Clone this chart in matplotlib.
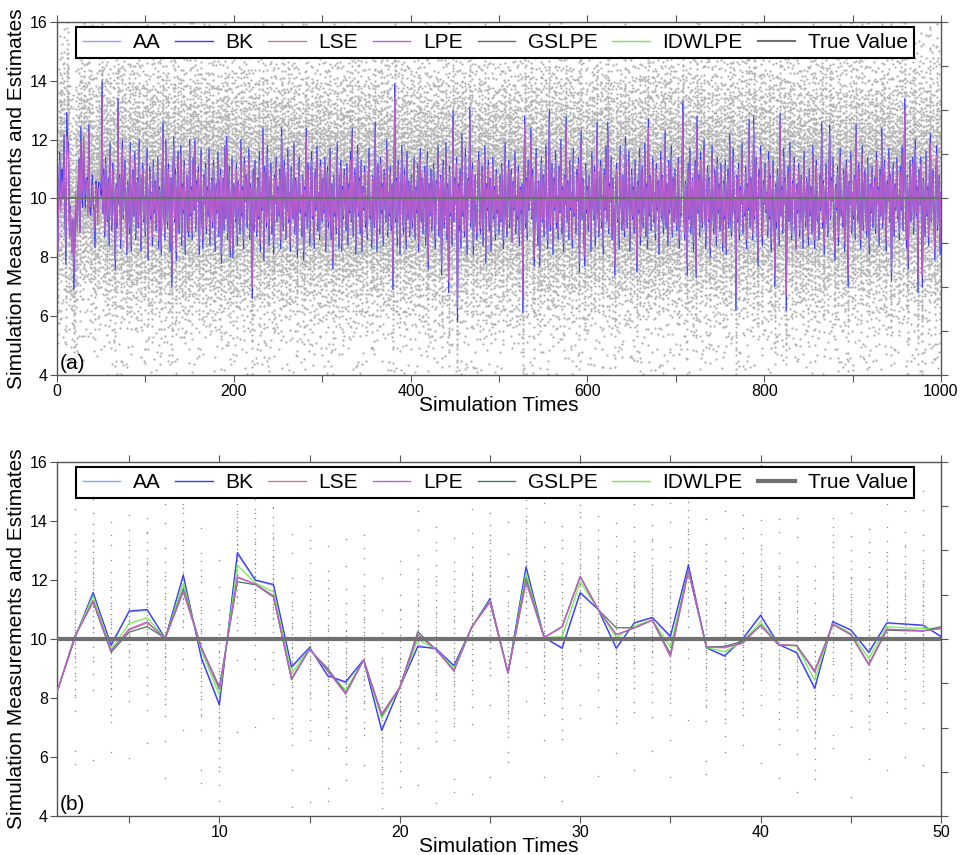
import numpy as np
import matplotlib.pyplot as plt
from matplotlib.lines import Line2D

plt.rcParams['font.family'] = ['Liberation Sans', 'DejaVu Sans']

# ---- panel (b): simulation times 1..50 (also the first 50 points of panel (a))
t_b = list(range(1, 51))
bk_b = [8.2, 10.05, 11.58, 9.8, 10.95, 11.0, 10.02, 12.17, 9.35, 7.76,
        12.93, 12.0, 11.85, 9.06, 9.72, 8.75, 8.55, 9.3, 6.89, 8.36,
        9.74, 9.68, 9.1, 10.4, 11.37, 8.85, 12.45, 10.05, 9.68, 11.56,
        11.0, 9.68, 10.55, 10.73, 10.1, 12.51, 9.7, 9.42, 10.0, 10.81,
        9.82, 9.53, 8.32, 10.59, 10.31, 9.56, 10.55, 10.51, 10.47, 10.08]
aa_b = [8.2, 10.05, 11.55, 9.75, 10.92, 10.97, 10.02, 12.12, 9.4, 7.8,
        12.88, 11.98, 11.82, 9.02, 9.7, 8.78, 8.5, 9.3, 6.95, 8.36,
        9.78, 9.66, 9.08, 10.42, 11.35, 8.85, 12.4, 10.05, 9.72, 11.6,
        11.0, 9.72, 10.53, 10.72, 10.05, 12.48, 9.7, 9.45, 9.98, 10.78,
        9.8, 9.56, 8.36, 10.58, 10.3, 9.52, 10.53, 10.5, 10.45, 10.1]
lse_b = [8.2, 10.1, 11.3, 9.6, 10.3, 10.55, 10.02, 11.62, 9.7, 8.3,
         12.08, 11.86, 11.45, 8.66, 9.66, 8.93, 8.15, 9.29, 7.45, 8.36,
         10.15, 9.65, 8.92, 10.42, 11.26, 8.85, 11.95, 10.05, 10.4, 12.1,
         11.0, 10.15, 10.37, 10.64, 9.42, 12.3, 9.72, 9.7, 9.86, 10.47,
         9.8, 9.78, 8.88, 10.5, 10.15, 9.15, 10.33, 10.31, 10.28, 10.35]
lpe_b = [8.2, 10.1, 11.3, 9.6, 10.34, 10.58, 10.02, 11.6, 9.7, 8.29,
         12.11, 11.86, 11.46, 8.65, 9.66, 8.93, 8.13, 9.29, 7.46, 8.36,
         10.14, 9.65, 8.92, 10.42, 11.26, 8.85, 11.94, 10.05, 10.42, 12.11,
         11.0, 10.15, 10.37, 10.64, 9.4, 12.3, 9.72, 9.72, 9.85, 10.47,
         9.8, 9.78, 8.88, 10.5, 10.15, 9.15, 10.33, 10.31, 10.28, 10.35]
gslpe_b = [8.2, 10.1, 11.25, 9.55, 10.23, 10.42, 10.02, 11.7, 9.72, 8.38,
           11.94, 11.84, 11.42, 8.62, 9.65, 9.0, 8.18, 9.29, 7.4, 8.36,
           10.25, 9.64, 8.93, 10.42, 11.25, 8.85, 12.05, 10.05, 10.42, 12.13,
           11.0, 10.38, 10.38, 10.64, 9.5, 12.34, 9.73, 9.75, 9.92, 10.45,
           9.8, 9.78, 8.93, 10.5, 10.15, 9.12, 10.3, 10.28, 10.27, 10.42]
idwlpe_b = [8.2, 10.1, 11.45, 9.65, 10.53, 10.72, 10.02, 11.88, 9.6, 8.1,
            12.5, 11.9, 11.6, 8.83, 9.68, 8.9, 8.27, 9.29, 7.31, 8.36,
            9.98, 9.66, 9.0, 10.42, 11.3, 8.85, 12.23, 10.05, 10.07, 11.94,
            11.0, 10.05, 10.44, 10.64, 9.74, 12.34, 9.71, 9.57, 9.9, 10.58,
            9.8, 9.76, 8.61, 10.53, 10.19, 9.34, 10.42, 10.38, 10.36, 10.36]
true_value = 10.0

# ---- panel (a): simulation times 51..1000, in tenths
# wide: AA / BK estimates, narrow: LSE / LPE / GSLPE / IDWLPE estimates
wide_rest = [
    140, 95, 110, 87, 114, 101, 92, 107, 84, 119, 99, 89, 112, 104, 94, 76, 105, 90, 134, 98, 108, 83, 101, 120, 93,
    104, 113, 96, 81, 106, 99, 88, 119, 82, 102, 110, 94, 116, 86, 100, 107, 90, 120, 96, 82, 105, 112, 92, 101, 87,
    108, 117, 79, 98, 111, 93, 102, 84, 113, 95, 106, 89, 100, 114, 83, 104, 96, 81, 110, 126, 94, 86, 120, 101, 90,
    112, 99, 82, 107, 70, 105, 121, 92, 110, 79, 102, 116, 88, 98, 118, 84, 105, 95, 113, 81, 100, 108, 90, 87, 120,
    94, 104, 86, 114, 96, 120, 89, 106, 99, 111, 81, 101, 117, 92, 83, 108, 98, 112, 88, 104, 94, 117, 84, 100, 107,
    90, 113, 98, 82, 105, 95, 116, 87, 102, 110, 78, 99, 107, 89, 118, 93, 121, 86, 101, 111, 80, 96, 114, 80, 105,
    100, 92, 112, 84, 106, 96, 88, 120, 94, 104, 83, 114, 99, 108, 90, 101, 117, 86, 105, 95, 66, 110, 89, 113, 98,
    87, 107, 93, 116, 82, 102, 96, 124, 79, 111, 100, 90, 118, 95, 84, 106, 112, 88, 101, 81, 108, 98, 114, 92, 104,
    94, 110, 83, 124, 99, 89, 113, 105, 86, 96, 117, 92, 102, 82, 111, 100, 93, 119, 88, 107, 98, 80, 105, 114, 95,
    101, 87, 108, 79, 104, 94, 124, 90, 112, 98, 84, 106, 116, 93, 100, 83, 110, 96, 118, 89, 102, 86, 113, 99, 92,
    107, 95, 114, 82, 101, 111, 90, 98, 117, 86, 105, 76, 108, 94, 100, 88, 119, 96, 83, 106, 113, 82, 104, 93, 110,
    99, 89, 112, 84, 105, 95, 116, 92, 124, 87, 102, 110, 81, 100, 118, 94, 107, 88, 113, 82, 104, 96, 111, 90, 101,
    86, 106, 117, 93, 99, 83, 108, 101, 90, 126, 96, 82, 112, 104, 88, 114, 95, 105, 84, 110, 100, 92, 120, 87, 102,
    94, 111, 89, 105, 69, 98, 139, 92, 107, 84, 113, 99, 81, 102, 118, 95, 88, 110, 100, 83, 116, 93, 106, 87, 101,
    108, 90, 98, 114, 86, 104, 95, 112, 82, 100, 117, 92, 107, 88, 101, 111, 84, 96, 116, 76, 105, 94, 110, 89, 99,
    112, 93, 83, 106, 101, 118, 87, 98, 108, 74, 104, 113, 90, 96, 119, 86, 105, 68, 111, 94, 100, 84, 130, 92, 107,
    98, 114, 58, 105, 89, 110, 83, 122, 94, 101, 87, 117, 96, 81, 107, 100, 131, 90, 104, 112, 81, 99, 108, 92, 86,
    106, 116, 95, 88, 102, 111, 84, 100, 118, 78, 105, 96, 113, 89, 107, 82, 99, 114, 93, 104, 86, 110, 95, 101, 88,
    108, 92, 112, 98, 83, 105, 119, 94, 87, 102, 113, 90, 100, 110, 85, 106, 96, 116, 88, 101, 93, 111, 84, 104, 95,
    105, 61, 99, 128, 90, 107, 86, 113, 96, 101, 124, 93, 110, 88, 77, 104, 117, 95, 84, 106, 77, 100, 114, 92, 108,
    87, 102, 118, 94, 83, 105, 130, 89, 99, 112, 81, 107, 96, 116, 90, 101, 86, 111, 95, 120, 88, 104, 82, 108, 98,
    128, 92, 106, 86, 113, 96, 102, 83, 117, 94, 100, 88, 110, 99, 114, 75, 105, 123, 93, 107, 87, 77, 112, 95, 104,
    89, 108, 98, 82, 116, 100, 93, 111, 84, 104, 126, 95, 87, 106, 113, 90, 101, 81, 110, 96, 118, 92, 126, 88, 105,
    99, 114, 86, 107, 94, 74, 102, 112, 92, 98, 83, 118, 101, 89, 108, 95, 87, 121, 105, 90, 100, 116, 82, 96, 110,
    93, 104, 88, 113, 99, 75, 106, 95, 117, 84, 101, 111, 90, 98, 119, 87, 105, 83, 127, 94, 108, 89, 100, 114, 92,
    102, 86, 112, 96, 106, 81, 100, 116, 93, 108, 88, 99, 123, 90, 105, 84, 113, 95, 101, 118, 87, 107, 92, 110, 98,
    89, 104, 114, 83, 100, 94, 111, 133, 96, 86, 106, 101, 74, 112, 93, 117, 88, 99, 107, 82, 102, 113, 73, 128, 95,
    108, 87, 116, 98, 90, 105, 120, 94, 83, 101, 111, 92, 107, 80, 100, 118, 96, 88, 110, 102, 84, 114, 95, 105, 89,
    112, 99, 82, 106, 93, 113, 81, 102, 110, 90, 122, 96, 87, 105, 117, 95, 100, 62, 108, 92, 112, 86, 104, 98, 119,
    88, 101, 94, 111, 83, 105, 96, 127, 90, 107, 99, 86, 128, 93, 104, 114, 89, 77, 110, 100, 118, 92, 84, 106, 98,
    112, 95, 102, 87, 116, 93, 108, 82, 100, 113, 96, 70, 105, 90, 110, 99, 84, 129, 94, 104, 88, 117, 98, 107, 62,
    101, 111, 92, 119, 96, 86, 106, 100, 114, 89, 83, 105, 95, 112, 87, 102, 108, 93, 83, 116, 99, 90, 107, 101, 84,
    110, 94, 104, 88, 118, 98, 83, 105, 113, 92, 100, 86, 108, 96, 126, 90, 106, 81, 101, 112, 95, 87, 104, 125, 93,
    107, 99, 114, 89, 79, 105, 96, 111, 84, 101, 117, 94, 100, 90, 110, 82, 104, 113, 95, 70, 106, 98, 116, 88, 102,
    93, 108, 86, 125, 100, 92, 112, 96, 83, 106, 118, 89, 102, 110, 94, 87, 114, 99, 81, 105, 95, 111, 90, 101, 107,
    88, 116, 98, 104, 84, 110, 94, 124, 90, 100, 113, 95, 82, 106, 99, 117, 92, 108, 72, 102, 112, 87, 105, 96, 114,
    93, 101, 86, 111, 96, 118, 89, 105, 134, 95, 83, 108, 76, 102, 113, 92, 99, 114, 88, 106, 120, 94, 104, 68, 110,
    98, 114, 90, 70, 107, 100, 87, 116, 94, 104, 84, 112, 122, 92, 101, 110, 95, 79, 106, 118, 89, 99, 108, 81, 102,
]
narrow_rest = [
    135, 96, 108, 89, 112, 101, 93, 106, 87, 116, 99, 91, 110, 103, 95, 79, 104, 92, 130, 98, 107, 86, 101, 117, 94,
    103, 111, 97, 83, 105, 99, 90, 116, 84, 102, 108, 95, 113, 88, 100, 106, 92, 117, 97, 85, 104, 110, 93, 101, 89,
    107, 114, 82, 98, 109, 94, 102, 87, 111, 96, 105, 91, 100, 112, 86, 103, 97, 83, 108, 123, 95, 88, 118, 101, 92,
    110, 99, 85, 106, 74, 104, 118, 93, 108, 82, 102, 113, 90, 98, 115, 87, 104, 96, 111, 84, 100, 107, 92, 89, 118,
    95, 103, 88, 112, 97, 118, 91, 105, 99, 109, 84, 101, 114, 93, 86, 107, 98, 110, 90, 103, 95, 114, 87, 100, 106,
    92, 111, 98, 85, 104, 96, 113, 89, 102, 108, 81, 99, 106, 91, 115, 94, 118, 88, 101, 109, 83, 97, 112, 83, 104,
    100, 93, 110, 87, 105, 97, 90, 117, 95, 103, 86, 112, 99, 107, 92, 101, 114, 88, 104, 96, 70, 108, 91, 111, 98,
    89, 106, 94, 113, 85, 102, 97, 121, 82, 109, 100, 92, 115, 96, 87, 105, 110, 90, 101, 84, 107, 98, 112, 93, 103,
    95, 108, 86, 121, 99, 91, 111, 104, 88, 97, 114, 93, 102, 85, 109, 100, 94, 116, 90, 106, 98, 83, 104, 112, 96,
    101, 89, 107, 82, 103, 95, 121, 92, 110, 98, 87, 105, 113, 94, 100, 86, 108, 97, 115, 91, 102, 88, 111, 99, 93,
    106, 96, 112, 85, 101, 109, 92, 98, 114, 88, 104, 79, 107, 95, 100, 90, 116, 97, 86, 105, 111, 84, 103, 94, 108,
    99, 91, 110, 87, 104, 96, 113, 93, 121, 89, 102, 108, 84, 100, 115, 95, 106, 90, 111, 84, 103, 97, 109, 92, 101,
    88, 105, 114, 94, 99, 86, 107, 101, 92, 123, 97, 85, 110, 103, 90, 112, 96, 104, 87, 108, 100, 93, 117, 89, 102,
    95, 109, 91, 104, 73, 98, 134, 93, 106, 87, 111, 99, 84, 102, 115, 96, 90, 108, 100, 86, 113, 94, 105, 89, 101,
    107, 92, 98, 112, 88, 103, 96, 110, 85, 100, 114, 93, 106, 90, 101, 109, 87, 97, 113, 79, 104, 95, 108, 91, 99,
    110, 94, 86, 105, 101, 115, 89, 98, 107, 77, 103, 111, 92, 97, 116, 88, 104, 72, 109, 95, 100, 87, 126, 93, 106,
    98, 112, 63, 104, 91, 108, 86, 119, 95, 101, 89, 114, 97, 84, 106, 100, 127, 92, 103, 110, 84, 99, 107, 93, 88,
    105, 113, 96, 90, 102, 109, 87, 100, 115, 81, 104, 97, 111, 91, 106, 85, 99, 112, 94, 103, 88, 108, 96, 101, 90,
    107, 93, 110, 98, 86, 104, 116, 95, 89, 102, 111, 92, 100, 108, 85, 105, 97, 113, 90, 101, 94, 109, 87, 103, 96,
    104, 66, 99, 125, 92, 106, 88, 111, 97, 101, 121, 94, 108, 90, 80, 103, 114, 96, 87, 105, 80, 100, 112, 93, 107,
    89, 102, 115, 95, 86, 104, 126, 91, 99, 110, 84, 106, 97, 113, 92, 101, 88, 109, 96, 117, 90, 103, 85, 107, 98,
    125, 93, 105, 88, 111, 97, 102, 86, 114, 95, 100, 90, 108, 99, 112, 78, 104, 120, 94, 106, 89, 80, 110, 96, 103,
    91, 107, 98, 85, 113, 100, 94, 109, 87, 103, 123, 96, 89, 105, 111, 92, 101, 84, 108, 97, 115, 93, 123, 90, 104,
    99, 112, 88, 106, 95, 77, 102, 110, 93, 98, 86, 115, 101, 91, 107, 96, 89, 118, 104, 92, 100, 113, 85, 97, 108,
    94, 103, 90, 111, 99, 78, 105, 96, 114, 87, 101, 109, 92, 98, 116, 89, 104, 86, 124, 95, 107, 91, 100, 112, 93,
    102, 88, 110, 97, 105, 84, 100, 113, 94, 107, 90, 99, 120, 92, 104, 87, 111, 96, 101, 115, 89, 106, 93, 108, 98,
    91, 103, 112, 86, 100, 95, 109, 129, 97, 88, 105, 101, 77, 110, 94, 114, 90, 99, 106, 85, 102, 111, 76, 125, 96,
    107, 89, 113, 98, 92, 104, 117, 95, 86, 101, 109, 93, 106, 83, 100, 115, 97, 90, 108, 102, 87, 112, 96, 104, 91,
    110, 99, 85, 105, 94, 111, 83, 102, 108, 92, 119, 97, 89, 104, 114, 96, 100, 67, 107, 93, 110, 88, 103, 98, 116,
    90, 101, 95, 109, 86, 104, 97, 124, 92, 106, 99, 88, 125, 94, 103, 112, 91, 80, 108, 100, 115, 93, 87, 105, 98,
    110, 96, 102, 89, 113, 94, 107, 85, 100, 111, 97, 74, 104, 92, 108, 99, 87, 126, 95, 103, 90, 114, 98, 106, 67,
    101, 109, 93, 116, 97, 88, 105, 100, 112, 91, 83, 104, 96, 110, 89, 102, 107, 94, 86, 113, 99, 92, 106, 101, 87,
    108, 95, 103, 90, 115, 98, 86, 104, 111, 93, 100, 88, 107, 97, 123, 92, 105, 84, 101, 110, 96, 89, 103, 122, 94,
    106, 99, 112, 91, 82, 104, 97, 109, 87, 101, 114, 95, 100, 92, 108, 85, 103, 111, 96, 74, 105, 98, 113, 90, 102,
    94, 107, 88, 122, 100, 93, 110, 97, 86, 105, 115, 91, 102, 108, 95, 89, 112, 99, 84, 104, 96, 109, 92, 101, 106,
    90, 113, 98, 103, 87, 108, 95, 121, 92, 100, 111, 96, 85, 105, 99, 114, 93, 107, 75, 102, 110, 89, 104, 97, 112,
    94, 101, 88, 109, 97, 115, 91, 104, 130, 96, 86, 107, 79, 102, 111, 93, 99, 112, 90, 105, 117, 95, 103, 72, 108,
    98, 112, 92, 74, 106, 100, 89, 113, 95, 103, 87, 110, 119, 93, 101, 108, 96, 82, 105, 115, 91, 99, 107, 84, 102,
]

# measurement offsets around the per-time average, one set per time step (cycled)
offset_sets = [
    [-3.47, -2.63, -2.21, -1.88, -1.62, -1.39, -1.18, -0.97, -0.81, -0.64, -0.49, -0.33, -0.18, -0.04,
     0.09, 0.23, 0.38, 0.52, 0.67, 0.83, 0.99, 1.16, 1.34, 1.53, 1.74, 1.97, 2.24, 2.58, 3.06, 3.91,
     -4.73, 4.55, -0.27, 0.71, -1.03, 1.42, -2.04, 0.15, -0.58, 2.11],
    [-3.12, -2.81, -2.07, -1.71, -1.49, -1.26, -1.07, -0.89, -0.72, -0.56, -0.41, -0.26, -0.11, 0.02,
     0.16, 0.31, 0.45, 0.6, 0.76, 0.91, 1.08, 1.25, 1.44, 1.66, 1.89, 2.16, 2.47, 2.86, 3.37, 4.12,
     -5.21, 3.64, 0.53, -0.78, 1.19, -1.55, 0.07, -0.36, 2.31, -2.44],
    [-3.83, -2.49, -2.02, -1.76, -1.44, -1.21, -1.01, -0.84, -0.69, -0.52, -0.37, -0.22, -0.08, 0.06,
     0.19, 0.34, 0.48, 0.63, 0.79, 0.95, 1.12, 1.29, 1.48, 1.69, 1.93, 2.21, 2.53, 2.94, 3.52, 4.36,
     -4.28, 3.23, -0.61, 0.87, -1.32, 1.57, 0.26, -0.15, -1.94, 2.72],
    [-3.29, -2.74, -2.29, -1.82, -1.56, -1.31, -1.13, -0.93, -0.76, -0.6, -0.44, -0.29, -0.14, 0.01,
     0.13, 0.27, 0.41, 0.56, 0.71, 0.87, 1.03, 1.21, 1.39, 1.59, 1.81, 2.06, 2.36, 2.71, 3.18, 3.97,
     -5.66, 4.88, 0.35, -0.47, 1.11, -1.17, -0.02, 0.64, -2.15, 1.76],
    [-3.58, -2.56, -2.13, -1.67, -1.41, -1.23, -1.04, -0.86, -0.7, -0.54, -0.39, -0.24, -0.09, 0.04,
     0.18, 0.33, 0.47, 0.61, 0.77, 0.93, 1.1, 1.27, 1.46, 1.68, 1.91, 2.19, 2.51, 2.92, 3.44, 4.21,
     -6.02, 3.78, -0.66, 0.29, -1.46, 1.37, 0.82, -0.19, 2.02, -2.33],
    [-3.01, -2.67, -2.18, -1.79, -1.52, -1.28, -1.09, -0.91, -0.74, -0.58, -0.42, -0.28, -0.13, 0.03,
     0.14, 0.29, 0.43, 0.58, 0.73, 0.89, 1.05, 1.23, 1.41, 1.62, 1.85, 2.11, 2.41, 2.78, 3.27, 4.03,
     -4.97, 5.12, 0.11, -0.83, 1.31, -1.36, 0.57, -0.31, -1.99, 2.28],
    [-3.36, -2.85, -2.26, -1.84, -1.58, -1.34, -1.15, -0.95, -0.79, -0.62, -0.46, -0.31, -0.16, -0.02,
     0.11, 0.25, 0.4, 0.54, 0.69, 0.85, 1.01, 1.18, 1.37, 1.56, 1.78, 2.03, 2.32, 2.67, 3.13, 3.84,
     -4.51, 4.27, -0.51, 0.95, -1.11, 1.64, 0.21, -0.72, -2.52, 2.61],
]

labels = ['AA', 'BK', 'LSE', 'LPE', 'GSLPE', 'IDWLPE', 'True Value']
colors = ['#8ea2ff', '#3c3cf2', '#d07a86', '#b860cc', '#4d7460', '#6ef04a', '#707070']

wide = np.array(wide_rest) / 10
narrow = np.array(narrow_rest) / 10
t_a = np.arange(1, 1001)
series_a = {
    'AA': np.concatenate([aa_b, wide]),
    'BK': np.concatenate([bk_b, wide]),
    'LSE': np.concatenate([lse_b, narrow]),
    'LPE': np.concatenate([lpe_b, narrow]),
    'GSLPE': np.concatenate([gslpe_b, narrow]),
    'IDWLPE': np.concatenate([idwlpe_b, narrow]),
}
series_b = {'AA': aa_b, 'BK': bk_b, 'LSE': lse_b, 'LPE': lpe_b,
            'GSLPE': gslpe_b, 'IDWLPE': idwlpe_b}


def measurements(times, centers):
    xs, ys = [], []
    for t, c in zip(times, centers):
        offs = np.array(offset_sets[t % len(offset_sets)])
        xs.append(np.full(len(offs), t))
        ys.append(c + offs)
    return np.concatenate(xs), np.concatenate(ys)


fig = plt.figure(figsize=(9.6, 8.55), dpi=100)
ax_a = fig.add_axes([57 / 960, 1 - 375 / 855, 884 / 960, 353 / 855])
ax_b = fig.add_axes([57 / 960, 1 - 816 / 855, 884 / 960, 354 / 855])

# drawing order and widths per panel
style_a = {'GSLPE': (2, 0.4), 'IDWLPE': (2.5, 0.4), 'AA': (3, 0.75), 'LSE': (4, 0.75),
           'BK': (5, 0.75), 'LPE': (6, 0.75)}
style_b = {'AA': (2, 0.9), 'BK': (3, 0.9), 'IDWLPE': (4, 0.9), 'GSLPE': (5, 0.9),
           'LSE': (6, 0.9), 'LPE': (7, 0.9)}


def draw(ax, t, series, dot_color, dot_size, styles, true_lw, xlim, major, minor, tag):
    mx, my = measurements(t, series['AA'])
    ax.scatter(mx, my, s=dot_size, color=dot_color, linewidths=0, zorder=1)
    for name, col in zip(labels[:-1], colors[:-1]):
        z, lw = styles[name]
        ax.plot(t, series[name], color=col, lw=lw, zorder=z)
    ax.plot(t, np.full(len(t), true_value), color=colors[-1], lw=true_lw, zorder=9)

    ax.set_xlim(*xlim)
    ax.set_ylim(4, 16)
    ax.set_xticks(major)
    ax.set_xticks(minor, minor=True)
    ax.set_yticks([4, 6, 8, 10, 12, 14, 16])
    ax.tick_params(which='both', direction='out', length=5, width=0.8, color='#555555',
                   top=True, labelsize=11.5, pad=1.5)
    for sp in ax.spines.values():
        sp.set_color('#555555')
        sp.set_linewidth(1.0)
    tw = ax.twinx()
    tw.set_ylim(4, 16)
    tw.set_yticks([4, 5.5, 7, 8.5, 10, 11.5, 13, 14.5, 16])
    tw.set_yticklabels([])
    tw.tick_params(direction='out', length=5, width=0.8, color='#555555')
    for sp in tw.spines.values():
        sp.set_visible(False)

    ax.set_ylabel('Simulation Measurements and Estimates', fontsize=15, labelpad=3)
    ax.set_xlabel('Simulation Times', fontsize=15, labelpad=-2)
    ax.text(0.003, 0.006, tag, transform=ax.transAxes, fontsize=15, ha='left', va='bottom')

    handles = [Line2D([], [], color=c, lw=1) for c in colors[:-1]]
    handles.append(Line2D([], [], color=colors[-1], lw=true_lw))
    leg = ax.legend(handles, labels, ncol=7, loc='upper center', bbox_to_anchor=(0.4955, 0.986),
                    borderaxespad=0, fontsize=15, frameon=True, fancybox=False, framealpha=1,
                    handlelength=1.8, handletextpad=0.6, columnspacing=0.72, borderpad=0.3)
    leg.get_frame().set_edgecolor('black')
    leg.get_frame().set_linewidth(1.5)
    leg.set_zorder(20)


draw(ax_a, t_a, series_a, '#b0b0b0', 2.6, style_a, 1.5, (0, 1000),
     [0, 200, 400, 600, 800, 1000], [100, 300, 500, 700, 900], '(a)')
draw(ax_b, np.array(t_b), series_b, '#8c8c8c', 1.1, style_b, 3.0, (1, 50),
     [10, 20, 30, 40, 50], [5, 15, 25, 35, 45], '(b)')

fig.savefig('out.png', dpi=100)
